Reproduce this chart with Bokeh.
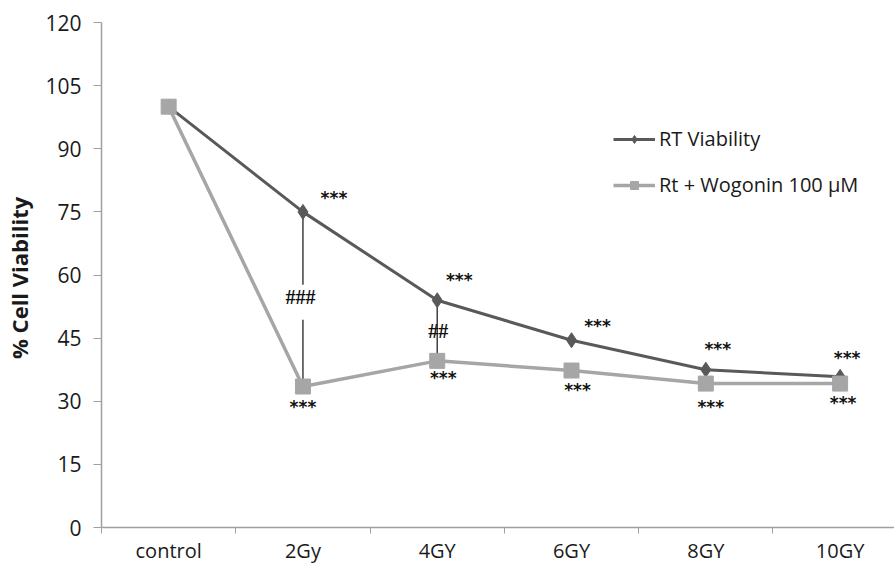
from bokeh.plotting import figure
from bokeh.models import Range1d, FixedTicker, Legend, LegendItem, ColumnDataSource
from bokeh.core.properties import value
from bokeh.embed import file_html
from bokeh.resources import INLINE

# ---- data ----
categories = ["control", "2Gy", "4GY", "6GY", "8GY", "10GY"]
rt_viability = [100, 75, 54, 44.5, 37.5, 35.8]
rt_wogonin = [100, 33.5, 39.6, 37.3, 34.2, 34.2]
rt_sig = ["", "***", "***", "***", "***", "***"]
wog_sig = ["", "***", "***", "***", "***", "***"]
hash_sig = ["", "###", "##", "", "", ""]
y_ticks = [0, 15, 30, 45, 60, 75, 90, 105, 120]

# ---- styles ----
DARK = "#595959"
LIGHT = "#a6a6a6"
AXIS = "#a0a0a0"
FONT = "Open Sans"

xs = [i + 0.5 for i in range(len(categories))]

p = figure(width=894, height=567, output_backend="svg", toolbar_location=None,
           x_range=Range1d(0, 5.905), y_range=Range1d(0, 120))
p.min_border_left = 101
p.min_border_right = 0
p.min_border_top = 22
p.min_border_bottom = 40
p.outline_line_color = None
p.grid.visible = False
p.background_fill_color = "white"
p.border_fill_color = "white"

# x axis
xa = p.xaxis[0]
xa.ticker = FixedTicker(ticks=xs, minor_ticks=list(range(len(categories))))
xa.major_label_overrides = {x: c for x, c in zip(xs, categories)}
xa.major_tick_out = 0
xa.major_tick_in = 0
xa.minor_tick_out = 6
xa.minor_tick_in = 0
xa.minor_tick_line_color = AXIS
xa.axis_line_color = AXIS
xa.axis_line_width = 1.5
xa.major_label_text_font = FONT
xa.major_label_text_font_size = "20px"
xa.major_label_text_color = "#1a1a1a"
xa.major_label_standoff = 3

# y axis
ya = p.yaxis[0]
ya.ticker = FixedTicker(ticks=y_ticks, minor_ticks=[])
ya.major_tick_out = 8
ya.major_tick_in = 0
ya.major_tick_line_color = AXIS
ya.axis_line_color = AXIS
ya.axis_line_width = 1.5
ya.major_label_text_font = FONT
ya.major_label_text_font_size = "21px"
ya.major_label_text_color = "#1a1a1a"
ya.major_label_standoff = 12
ya.axis_label = "% Cell  Viability"
ya.axis_label_text_font = FONT
ya.axis_label_text_font_style = "bold"
ya.axis_label_text_font_size = "22px"
ya.axis_label_text_color = "#1a1a1a"
ya.axis_label_standoff = 8

src = ColumnDataSource(dict(x=xs, rt=rt_viability, wog=rt_wogonin,
                            rt_sig=rt_sig, wog_sig=wog_sig, hash=hash_sig))

# connector segments between the two series (where a hash label exists)
seg_idx = [i for i, h in enumerate(hash_sig) if h]
p.segment(x0=[xs[i] for i in seg_idx], y0=[rt_viability[i] for i in seg_idx],
          x1=[xs[i] for i in seg_idx], y1=[rt_wogonin[i] for i in seg_idx],
          line_color="#404040", line_width=1.5)

# series
l1 = p.line("x", "rt", source=src, line_color=DARK, line_width=3)
m1 = p.scatter("x", "rt", source=src, marker="diamond", size=15,
               fill_color=DARK, line_color=DARK)
l2 = p.line("x", "wog", source=src, line_color=LIGHT, line_width=3.5)
m2 = p.scatter("x", "wog", source=src, marker="square", size=15,
               fill_color=LIGHT, line_color=LIGHT)

# significance stars
rt_dx = [0, 31, 22, 26, 12, 7]
rt_dy = [0, -15, -21, -15, -22, -20]
wog_dx = [0, 0, 6, 6, 5, 3]
wog_dy = [0, 19, 16, 18, 22, 18]
for sig, col, dx, dy in [(rt_sig, "rt", rt_dx, rt_dy), (wog_sig, "wog", wog_dx, wog_dy)]:
    for i, s in enumerate(sig):
        if not s:
            continue
        p.text(x=[xs[i]], y=[src.data[col][i]], text=[s],
               x_offset=dx[i], y_offset=dy[i] + 1,
               text_align="center", text_baseline="middle",
               text_font=value("DejaVu Sans"), text_font_size="17px",
               text_color="#111111", text_font_style="bold")

# hash labels
p.text(x=[xs[1]], y=[(rt_viability[1] + rt_wogonin[1]) / 2], text=[hash_sig[1]],
       x_offset=3, y_offset=3, text_align="center", text_baseline="middle",
       text_font=value("Liberation Serif"), text_font_size="20px",
       text_font_style="bold",
       text_color="#111111", background_fill_color="white",
       padding=[1, 12, 1, 12])
p.text(x=[xs[2]], y=[(rt_viability[2] + rt_wogonin[2]) / 2], text=[hash_sig[2]],
       x_offset=1, y_offset=0, text_align="center", text_baseline="middle",
       text_font=value("Liberation Serif"), text_font_size="20px",
       text_font_style="bold", text_color="#111111")

legend = Legend(items=[LegendItem(label="RT Viability", renderers=[l1, m1]),
                       LegendItem(label="Rt + Wogonin 100 \u00b5M", renderers=[l2, m2])],
                location=(512, 329), border_line_color=None,
                background_fill_alpha=0, padding=0, margin=0, spacing=19,
                glyph_width=42, glyph_height=20, label_height=20, label_standoff=4,
                label_text_font=FONT, label_text_font_size="20px",
                label_text_color="#1a1a1a")
p.add_layout(legend)

open("out.html", "w").write(file_html(p, INLINE))
